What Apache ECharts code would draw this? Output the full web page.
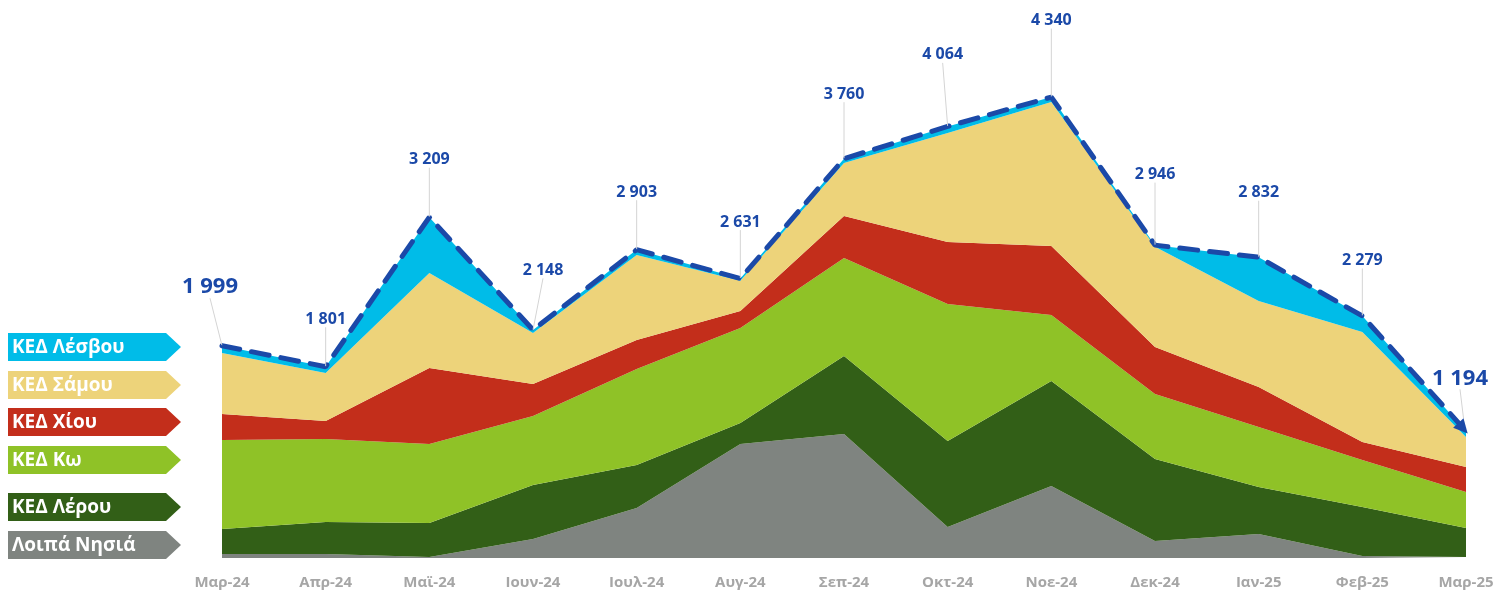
<!DOCTYPE html>
<html>
<head>
<meta charset="UTF-8">
<title>ΚΕΔ - μηνιαία εξέλιξη</title>
<script src="https://cdn.jsdelivr.net/npm/echarts@6/dist/echarts.min.js"></script>
<style>
	html, body {margin:0; height:100%; width:100%; background:#fff;}
	#chart {width:1512px; height:597px;}
</style>
</head>
<body>
<div id="chart"></div>
<script>
const months = ['Μαρ-24','Απρ-24','Μαϊ-24','Ιουν-24','Ιουλ-24','Αυγ-24','Σεπ-24','Οκτ-24','Νοε-24','Δεκ-24','Ιαν-25','Φεβ-25','Μαρ-25'];
const loipa  = [38, 38, 9, 179, 471, 1073, 1168, 292, 678, 160, 226, 19, 9];
const lerou  = [235, 301, 321, 508, 405, 198, 734, 810, 989, 772, 443, 461, 273];
const ko     = [838, 782, 743, 650, 904, 895, 923, 1290, 621, 612, 565, 443, 339];
const chios  = [245, 169, 716, 301, 273, 160, 395, 584, 650, 443, 376, 169, 236];
const samos  = [574, 452, 895, 481, 800, 285, 499, 1026, 1356, 943, 810, 1036, 282];
const lesvos = [69, 59, 525, 29, 50, 20, 41, 62, 46, 16, 412, 151, 55];
const totals = [1999, 1801, 3209, 2148, 2903, 2631, 3760, 4064, 4340, 2946, 2832, 2279, 1194];

// bottom to top of the stack
const layers = [
	{name: 'Λοιπά Νησιά', data: loipa,  color: '#7F8480'},
	{name: 'ΚΕΔ Λέρου',   data: lerou,  color: '#325F17'},
	{name: 'ΚΕΔ Κω',      data: ko,     color: '#8FC227'},
	{name: 'ΚΕΔ Χίου',    data: chios,  color: '#C32E1B'},
	{name: 'ΚΕΔ Σάμου',   data: samos,  color: '#EDD37A'},
	{name: 'ΚΕΔ Λέσβου',  data: lesvos, color: '#00BCE8'}
];

// how far each total label is pulled up / sideways from its point (px)
const labelDy = [-42, -34, -44, -46, -44, -43, -51, -58, -63, -57, -51, -42, -24];
const labelDx = [-12, 0, 0, 10, 0, 0, 0, -5, 0, 0, 0, 0, -3];

const blue = '#1B49A8';
const fmt = v => String(v).replace(/\B(?=(\d{3})+(?!\d))/g, ' ');

let chart = echarts.init(document.getElementById('chart'));

let series = layers.map(l => ({
	name: l.name,
	type: 'line',
	stack: 'all',
	data: l.data,
	symbol: 'none',
	lineStyle: {width: 0},
	areaStyle: {color: l.color, opacity: 1},
	itemStyle: {color: l.color},
	silent: true
}));

let totalData = totals.map((v, i) => {
	let big = (i === 0 || i === totals.length - 1);
	let item = {value: v, label: {fontSize: big ? 22 : 16}};
	if (i === totals.length - 1) {
		item.symbol = 'triangle';
		item.symbolSize = 14;
		item.symbolRotate = -138;
		item.symbolOffset = [-3, -3];
	}
	return item;
});

series.push({
	name: 'Σύνολο',
	type: 'line',
	data: totalData,
	z: 10,
	symbol: 'circle',
	symbolSize: 1,
	itemStyle: {color: blue},
	lineStyle: {color: blue, width: 5, type: [18, 12], cap: 'round'},
	label: {
		show: true,
		position: 'top',
		color: blue,
		fontWeight: 'bold',
		fontFamily: 'Open Sans',
		formatter: p => fmt(p.value)
	},
	labelLine: {show: true, lineStyle: {color: '#D4D4D4', width: 1}},
	labelLayout: p => ({dy: labelDy[p.dataIndex], dx: labelDx[p.dataIndex]}),
	silent: true
});

// arrow tags on the left, top to bottom
const tagTops = [333, 371, 408, 446, 493, 531];
let graphics = [];
layers.slice().reverse().forEach((l, i) => {
	let t = tagTops[i];
	graphics.push({
		type: 'polygon',
		shape: {points: [[8, t], [166, t], [181, t + 14], [166, t + 28], [8, t + 28]]},
		style: {fill: l.color}
	});
	graphics.push({
		type: 'text',
		x: 12, y: t + 15,
		style: {text: l.name, fill: '#fff', font: 'bold 19px "Open Sans"', verticalAlign: 'middle'}
	});
});

let option = {
	animation: false,
	grid: {left: 222, right: 46, top: 27, bottom: 39},
	xAxis: {
		type: 'category',
		data: months,
		boundaryGap: false,
		axisLine: {show: false},
		axisTick: {show: false},
		axisLabel: {color: '#A6A6A6', fontWeight: 'bold', fontSize: 15, fontFamily: 'Open Sans', margin: 17}
	},
	yAxis: {
		type: 'value',
		min: 0, max: 5000,
		show: false,
		splitLine: {show: false}
	},
	graphic: graphics,
	series: series
};

chart.setOption(option);
</script>
</body>
</html>
